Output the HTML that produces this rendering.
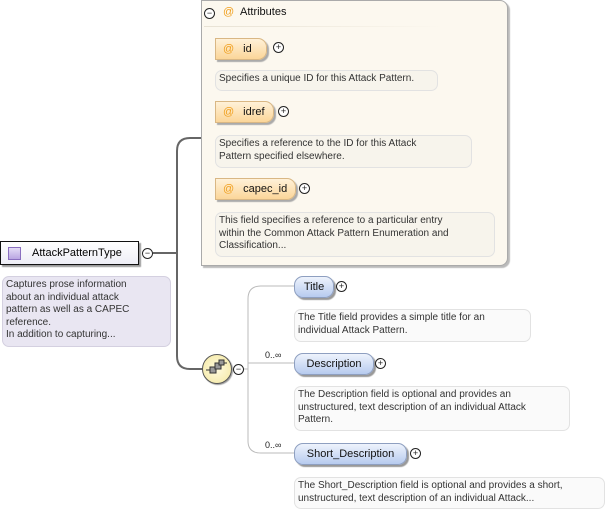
<!DOCTYPE html>
<html><head><meta charset="utf-8"><style>
body{margin:0;width:612px;height:512px;background:#fff;position:relative;overflow:hidden;font-family:"Liberation Sans","DejaVu Sans",sans-serif;}
.a{position:absolute;box-sizing:border-box;}
.desc{position:absolute;box-sizing:border-box;border:1px solid #e2e2e2;border-radius:7px;background:#fafafa;font-size:10px;line-height:12.5px;color:#333;padding:2px 3px;white-space:nowrap;}
.attr{position:absolute;box-sizing:border-box;height:22px;border-radius:0 9px 9px 0;background:linear-gradient(#fff1d8,#fbd699);border:1px solid #d9b784;box-shadow:2px 2px 1px #aaa;font-size:11px;line-height:20px;padding-left:7px;color:#111;}
.attr b{color:#f0a020;font-weight:normal;margin-right:9px;}
.el{position:absolute;box-sizing:border-box;height:22px;border-radius:9px;background:linear-gradient(#eef3fc,#b7cbef);border:1px solid #8e9fc0;box-shadow:2px 2px 1px #999;font-size:11px;line-height:20px;text-align:center;color:#111;}
.pl{position:absolute;width:9px;height:9px;border:1px solid #222;border-radius:50%;font-size:9px;line-height:8px;text-align:center;color:#222;background:#fff;}
.card{position:absolute;font-size:9px;color:#222;}
</style></head><body>
<svg class="a" style="left:0;top:0" width="612" height="512">
<g fill="none" stroke="#666" stroke-width="2">
<path d="M153 253 H177"/>
<path d="M201 138 H190 Q177 138 177 151 V356 Q177 369 190 369 H203"/>
</g>
<g fill="none" stroke="#bbb" stroke-width="1">
<path d="M243 369 H248"/>
<path d="M294 286 H261 Q248 286 248 299 V441 Q248 453 261 453 H294"/>
<path d="M248 363 H294"/>
</g>
</svg>
<!-- root -->
<div class="a" style="left:0px;top:241px;width:139px;height:24px;border:1px solid #111;background:linear-gradient(#fff,#eeeef6);box-shadow:2px 2px 1px #999;font-size:11px;line-height:22px;padding-left:31px;">AttackPatternType</div>
<div class="a" style="left:8px;top:247px;width:13px;height:13px;border:1px solid #8a6fbf;background:linear-gradient(#e4dcf6,#b9a6e2);"></div>
<div class="pl" style="left:142px;top:248px;">−</div>
<div class="desc" style="left:2px;top:276px;width:169px;height:71px;background:#e9e6f2;border-color:#d4d0e0;">Captures prose information<br>about an individual attack<br>pattern as well as a CAPEC<br>reference.<br>In addition to capturing...</div>
<!-- attributes group -->
<div class="a" style="left:201px;top:0;width:307px;height:266px;background:#fcf8ef;border:1px solid #aaa;border-radius:0 8px 8px 0;box-shadow:2px 2px 1px #bbb;"></div>
<div class="pl" style="left:204px;top:8px;">−</div>
<div class="a" style="left:223px;top:6px;font-size:11px;color:#f0a020;">@</div>
<div class="a" style="left:240px;top:6px;font-size:11px;color:#111;">Attributes</div>
<div class="a" style="left:204px;top:26px;width:240px;height:1px;background:linear-gradient(90deg,#e8e2d4,#fcf8ef);"></div>
<div class="attr" style="left:215px;top:38px;width:52px;"><b>@</b>id</div>
<div class="pl" style="left:273px;top:42px;">+</div>
<div class="desc" style="left:215px;top:70px;width:223px;height:21px;background:#f7f4ec;">Specifies a unique ID for this Attack Pattern.</div>
<div class="attr" style="left:215px;top:101px;width:59px;"><b>@</b>idref</div>
<div class="pl" style="left:278px;top:106px;">+</div>
<div class="desc" style="left:215px;top:135px;width:257px;height:33px;background:#f7f4ec;">Specifies a reference to the ID for this Attack<br>Pattern specified elsewhere.</div>
<div class="attr" style="left:215px;top:178px;width:81px;"><b>@</b>capec_id</div>
<div class="pl" style="left:299px;top:183px;">+</div>
<div class="desc" style="left:215px;top:212px;width:280px;height:45px;background:#f7f4ec;">This field specifies a reference to a particular entry<br>within the Common Attack Pattern Enumeration and<br>Classification...</div>
<!-- sequence -->
<div class="a" style="left:202px;top:354px;width:30px;height:30px;border-radius:50%;border:1px solid #555;background:radial-gradient(#fffbe0,#f3e7a0);box-shadow:1px 1px 1px #999;"></div>
<svg class="a" style="left:205px;top:358px" width="24" height="22"><g stroke="#333" fill="#999"><rect x="5" y="9" width="6" height="6"/><rect x="10" y="5" width="6" height="6"/><rect x="14" y="2" width="5" height="5"/><line x1="1" y1="12" x2="5" y2="12"/><line x1="19" y1="5" x2="22" y2="5"/></g></svg>
<div class="pl" style="left:233px;top:364px;">−</div>
<div class="el" style="left:294px;top:276px;width:40px;">Title</div>
<div class="pl" style="left:336px;top:281px;">+</div>
<div class="desc" style="left:294px;top:309px;width:237px;height:33px;">The Title field provides a simple title for an<br>individual Attack Pattern.</div>
<div class="card" style="left:265px;top:350px;">0..∞</div>
<div class="el" style="left:294px;top:353px;width:80px;">Description</div>
<div class="pl" style="left:375px;top:358px;">+</div>
<div class="desc" style="left:294px;top:386px;width:276px;height:45px;">The Description field is optional and provides an<br>unstructured, text description of an individual Attack<br>Pattern.</div>
<div class="card" style="left:265px;top:440px;">0..∞</div>
<div class="el" style="left:294px;top:443px;width:113px;">Short_Description</div>
<div class="pl" style="left:410px;top:448px;">+</div>
<div class="desc" style="left:294px;top:477px;width:311px;height:32px;">The Short_Description field is optional and provides a short,<br>unstructured, text description of an individual Attack...</div>
</body></html>
